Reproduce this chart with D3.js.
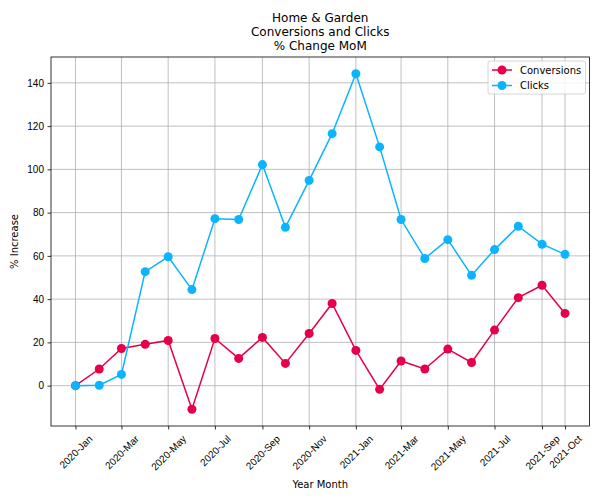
<!DOCTYPE html>
<html>
<head>
<meta charset="utf-8">
<script src="https://cdn.jsdelivr.net/npm/d3@7"></script>
<style>
  html, body { margin: 0; padding: 0; background: #fff; }
  svg { display: block; font-family: "DejaVu Sans", sans-serif; }
</style>
</head>
<body>
<svg id="chart" width="600" height="500"></svg>
<script>
// ---- data ----
const months = ["2020-01","2020-02","2020-03","2020-04","2020-05","2020-06","2020-07","2020-08","2020-09","2020-10","2020-11","2020-12",
                "2021-01","2021-02","2021-03","2021-04","2021-05","2021-06","2021-07","2021-08","2021-09","2021-10"];
const conversions = [0, 7.7, 17.2, 19.1, 20.9, -10.9, 21.8, 12.6, 22.3, 10.3, 24.1, 38.0,
                     16.3, -1.7, 11.4, 7.7, 16.9, 10.7, 25.7, 40.7, 46.4, 33.4];
const clicks = [0, 0.2, 5.2, 52.7, 59.6, 44.4, 77.2, 76.8, 102.2, 73.2, 94.9, 116.5,
                144.2, 110.4, 76.8, 58.8, 67.5, 51.0, 62.9, 73.7, 65.4, 60.7];
const xTickMonths = ["2020-01","2020-03","2020-05","2020-07","2020-09","2020-11","2021-01","2021-03","2021-05","2021-07","2021-09","2021-10"];
const xTickLabels = ["2020-Jan","2020-Mar","2020-May","2020-Jul","2020-Sep","2020-Nov","2021-Jan","2021-Mar","2021-May","2021-Jul","2021-Sep","2021-Oct"];
const yTicks = [0, 20, 40, 60, 80, 100, 120, 140];
const seriesNames = ["Conversions", "Clicks"];
const seriesColors = ["#e60049", "#0bb4ff"];
const titleLines = ["Home & Garden", "Conversions and Clicks", "% Change MoM"];

// ---- layout ----
const svg = d3.select("#chart");
const L = 51, R = 589.5, T = 57, B = 426;
const parse = d3.utcParse("%Y-%m");
const dates = months.map(parse);

const tExt = d3.extent(dates);
const tPad = (tExt[1] - tExt[0]) * 0.05;
const x = d3.scaleUtc()
  .domain([new Date(+tExt[0] - tPad), new Date(+tExt[1] + tPad)])
  .range([L, R]);

const allVals = conversions.concat(clicks);
const yMin = d3.min(allVals), yMax = d3.max(allVals);
const yPad = (yMax - yMin) * 0.05;
const y = d3.scaleLinear().domain([yMin - yPad, yMax + yPad]).range([B, T]);

const gridColor = "#b0b0b0";
const tickDates = xTickMonths.map(parse);

// grid
const grid = svg.append("g");
grid.selectAll("line.gx").data(tickDates).join("line")
  .attr("x1", d => x(d)).attr("x2", d => x(d)).attr("y1", T).attr("y2", B)
  .attr("stroke", gridColor).attr("stroke-width", 0.8);
grid.selectAll("line.gy").data(yTicks).join("line")
  .attr("y1", d => y(d)).attr("y2", d => y(d)).attr("x1", L).attr("x2", R)
  .attr("stroke", gridColor).attr("stroke-width", 0.8);

// axes
const xAxis = d3.axisBottom(x).tickValues(tickDates)
  .tickFormat((d, i) => xTickLabels[i]).tickSizeInner(3.5).tickSizeOuter(0).tickPadding(3.5);
const gx = svg.append("g").attr("transform", `translate(0,${B})`).call(xAxis);
gx.select(".domain").remove();
gx.selectAll(".tick line").attr("stroke", "#000").attr("stroke-width", 0.8);
gx.selectAll(".tick text")
  .attr("font-size", 10).attr("fill", "#000")
  .attr("text-anchor", "middle").attr("dy", null).attr("y", null)
  .attr("dominant-baseline", "central")
  .each(function() {
    const w = this.getComputedTextLength();
    const h = 11.6;
    const cy = 7 + (w + h) * 0.7071 / 2;
    d3.select(this).attr("transform", `translate(0,${cy}) rotate(-45)`);
  });

const yAxis = d3.axisLeft(y).tickValues(yTicks).tickSizeInner(3.5).tickSizeOuter(0).tickPadding(3.5);
const gy = svg.append("g").attr("transform", `translate(${L},0)`).call(yAxis);
gy.select(".domain").remove();
gy.selectAll(".tick line").attr("stroke", "#000").attr("stroke-width", 0.8);
gy.selectAll(".tick text").attr("font-size", 10).attr("fill", "#000");

// frame
svg.append("rect").attr("x", L).attr("y", T).attr("width", R - L).attr("height", B - T)
  .attr("fill", "none").attr("stroke", "#000").attr("stroke-width", 0.8);

// series
const seriesData = [conversions, clicks];
const line = d3.line().x((d, i) => x(dates[i])).y(d => y(d));
seriesData.forEach((vals, si) => {
  const g = svg.append("g");
  g.append("path").datum(vals).attr("d", line)
    .attr("fill", "none").attr("stroke", seriesColors[si]).attr("stroke-width", 1.5);
  g.selectAll("circle").data(vals).join("circle")
    .attr("cx", (d, i) => x(dates[i])).attr("cy", d => y(d)).attr("r", 4.5)
    .attr("fill", seriesColors[si]);
});

// title
svg.append("g").selectAll("text").data(titleLines).join("text")
  .attr("x", (L + R) / 2).attr("y", (d, i) => 21.5 + i * 14.4)
  .attr("text-anchor", "middle").attr("font-size", 12).attr("fill", "#000")
  .text(d => d);

// axis labels
svg.append("text").attr("x", (L + R) / 2).attr("y", 488).attr("text-anchor", "middle")
  .attr("font-size", 10).attr("fill", "#000").text("Year Month");
svg.append("text").attr("transform", `translate(18,${(T + B) / 2}) rotate(-90)`)
  .attr("text-anchor", "middle").attr("font-size", 10).attr("fill", "#000").text("% Increase");

// legend
const lg = svg.append("g");
lg.append("rect").attr("x", 488).attr("y", 61).attr("width", 97.5).attr("height", 33).attr("rx", 2)
  .attr("fill", "#fff").attr("fill-opacity", 0.8).attr("stroke", "#cccccc").attr("stroke-width", 0.8);
seriesNames.forEach((name, i) => {
  const yy = 70 + i * 15.5;
  lg.append("line").attr("x1", 492).attr("x2", 512).attr("y1", yy).attr("y2", yy)
    .attr("stroke", seriesColors[i]).attr("stroke-width", 1.5);
  lg.append("circle").attr("cx", 502).attr("cy", yy).attr("r", 4.5).attr("fill", seriesColors[i]);
  lg.append("text").attr("x", 520).attr("y", yy).attr("dominant-baseline", "central")
    .attr("font-size", 10).attr("fill", "#000").text(name);
});
</script>
</body>
</html>
